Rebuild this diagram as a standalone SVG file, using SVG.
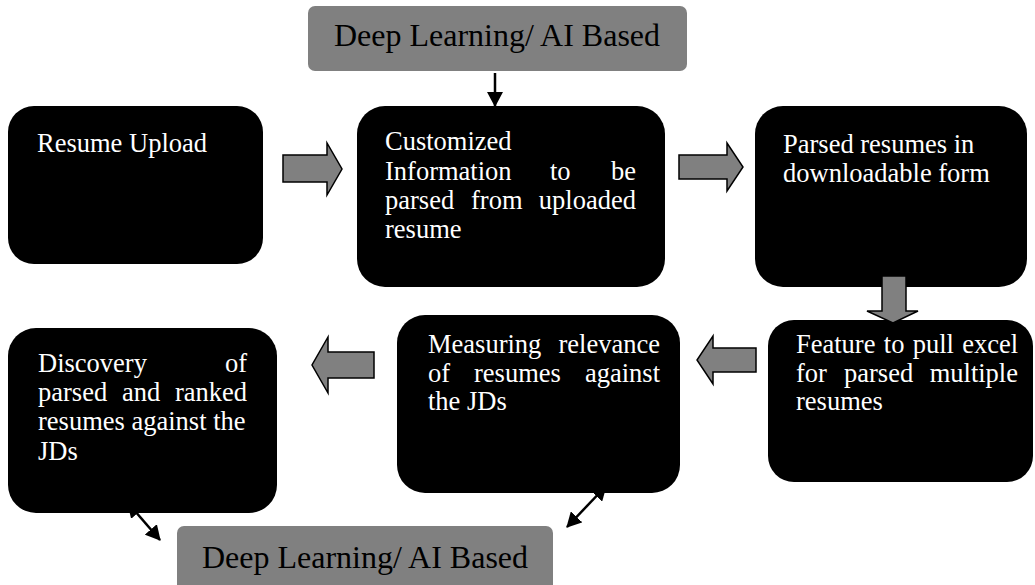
<svg xmlns="http://www.w3.org/2000/svg" width="1035" height="585" viewBox="0 0 1035 585">
<style>
.box{fill:#000}
.ai{fill:#808080}
.t{font-family:"Liberation Serif","Times New Roman",serif;font-size:26.5px;fill:#fff}
.ait{font-family:"Liberation Serif","Times New Roman",serif;font-size:32px;fill:#000;text-anchor:middle}
.blk{fill:#808080;stroke:#000;stroke-width:1.5;stroke-linejoin:miter}
.con{stroke:#000;stroke-width:2.5;fill:none}
.e{text-anchor:end}
</style>
<defs>
<marker id="ah" markerUnits="userSpaceOnUse" markerWidth="16" markerHeight="16" refX="14" refY="8" orient="auto-start-reverse">
<path d="M0,0 L15,8 L0,16 Z" fill="#000"/>
</marker>
</defs>
<rect width="1035" height="585" fill="#fff"/>
<g id="connectors">
<line class="con" x1="495" y1="73" x2="495" y2="106" marker-end="url(#ah)"/>
<line class="con" x1="128" y1="503" x2="160" y2="540" marker-start="url(#ah)" marker-end="url(#ah)"/>
<line class="con" x1="606" y1="486" x2="567" y2="527" marker-start="url(#ah)" marker-end="url(#ah)"/>
</g>
<g id="ai-top">
<rect class="ai" x="308" y="6" width="379" height="65" rx="7"/>
<text class="ait" x="497" y="46">Deep Learning/ AI Based</text>
</g>
<g id="ai-bottom">
<rect class="ai" x="177" y="526" width="376" height="75" rx="7"/>
<text class="ait" x="365" y="568">Deep Learning/ AI Based</text>
</g>
<g id="resume-upload">
<rect class="box" x="8" y="106" width="255" height="158" rx="26"/>
<text class="t" x="37" y="152">Resume Upload</text>
</g>
<g id="customized-info">
<rect class="box" x="357" y="106" width="308" height="181" rx="28"/>
<text class="t" x="385" y="150">Customized</text>
<text class="t" x="385" y="180">Information</text>
<text class="t" x="550" y="180">to</text>
<text class="t e" x="636" y="180">be</text>
<text class="t" x="385" y="209">parsed</text>
<text class="t" x="471" y="209">from</text>
<text class="t e" x="636" y="209">uploaded</text>
<text class="t" x="385" y="238">resume</text>
</g>
<g id="parsed-resumes">
<rect class="box" x="755" y="106" width="272" height="181" rx="28"/>
<text class="t" x="783" y="153">Parsed resumes in</text>
<text class="t" x="783" y="182">downloadable form</text>
</g>
<g id="feature-excel">
<rect class="box" x="768" y="320" width="265" height="162" rx="26"/>
<text class="t" x="796" y="353" word-spacing="1.7">Feature to pull excel</text>
<text class="t" x="796" y="382">for</text>
<text class="t" x="844" y="382">parsed</text>
<text class="t e" x="1018" y="382">multiple</text>
<text class="t" x="796" y="410">resumes</text>
</g>
<g id="measuring-relevance">
<rect class="box" x="397" y="315" width="283" height="178" rx="28"/>
<text class="t" x="428" y="353">Measuring</text>
<text class="t e" x="660" y="353">relevance</text>
<text class="t" x="428" y="382">of</text>
<text class="t" x="474" y="382">resumes</text>
<text class="t e" x="660" y="382">against</text>
<text class="t" x="428" y="410">the JDs</text>
</g>
<g id="discovery">
<rect class="box" x="8" y="328" width="269" height="185" rx="28"/>
<text class="t" x="38" y="372">Discovery</text>
<text class="t e" x="247" y="372">of</text>
<text class="t" x="38" y="401">parsed</text>
<text class="t" x="122" y="401">and</text>
<text class="t e" x="247" y="401">ranked</text>
<text class="t" x="38" y="430">resumes against the</text>
<text class="t" x="38" y="460">JDs</text>
</g>
<g id="block-arrows">
<polygon class="blk" points="283,155 327,155 327,143 342,169 327,195 327,182 283,182"/>
<polygon class="blk" points="679,155 727,155 727,143 743,167 727,191 727,179 679,179"/>
<polygon class="blk" points="882,276 906,276 906,311 918,311 893,323 867,311 882,311"/>
<polygon class="blk" points="756,348 713,348 713,336 697,360 713,384 713,372 756,372"/>
<polygon class="blk" points="374,352 328,352 328,337 312,365 328,393 328,378 374,378"/>
</g>
</svg>
